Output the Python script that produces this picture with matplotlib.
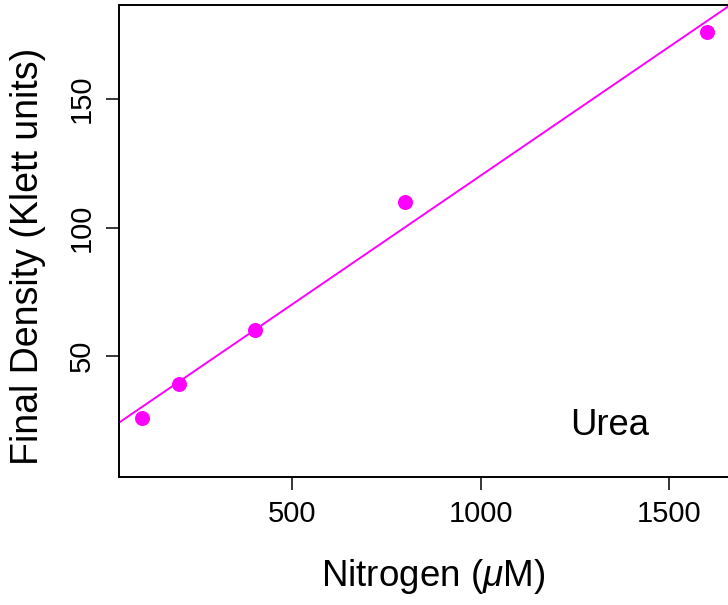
import matplotlib.pyplot as plt
import numpy as np

# Urea series: nitrogen supplied vs final culture density
nitrogen = np.array([100, 200, 400, 800, 1600])
density = np.array([26, 39, 60, 110, 176])

x_ticks = [500, 1000, 1500]
y_ticks = [50, 100, 150]

plt.rcParams['font.family'] = ['Liberation Sans', 'DejaVu Sans']
plt.rcParams['mathtext.fontset'] = 'custom'
plt.rcParams['mathtext.it'] = 'Liberation Sans:italic'
plt.rcParams['mathtext.rm'] = 'Liberation Sans'

W, H = 728, 605
fig = plt.figure(figsize=(W / 100, H / 100), dpi=100)
ax = fig.add_axes([119 / W, (H - 476.7) / H, (729.5 - 119) / W, (476.7 - 5) / H])

magenta = '#ff00ff'
ax.plot(nitrogen, density, 'o', color=magenta, markersize=10.8, markeredgewidth=0)

# least squares line across the full panel
slope, intercept = np.polyfit(nitrogen, density, 1)
xl = np.array([40, 1660])
ax.plot(xl, intercept + slope * xl, color=magenta, lw=1.4)

ax.set_xlim(40, 1660)
ax.set_ylim(3, 186.7)
ax.set_xticks(x_ticks)
ax.set_yticks(y_ticks)
ax.tick_params(direction='out', length=9.4, width=1.1, labelsize=21, pad=7.5)
for lab in ax.get_yticklabels():
    lab.set_rotation(90)
    lab.set_va('center')
for s in ax.spines.values():
    s.set_linewidth(1.4)

fig.text(609.5 / W, 1 - 435 / H, 'Urea', fontsize=26.3, ha='center', va='baseline')
fig.text(433.5 / W, 1 - 577 / H, r'Nitrogen ($\mathit{\mu}$M)', fontsize=26.5,
         ha='center', va='center')
fig.text(28 / W, 1 - 256 / H, 'Final Density (Klett units)', fontsize=27,
         ha='center', va='center', rotation=90)

fig.savefig('out.png', dpi=100)
